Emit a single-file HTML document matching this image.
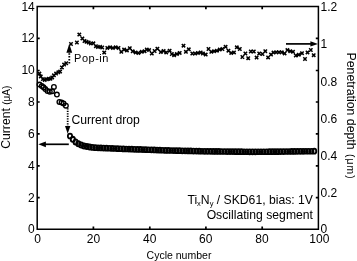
<!DOCTYPE html>
<html><head><meta charset="utf-8">
<style>
html,body{margin:0;padding:0;background:#fff;}
body{width:357px;height:261px;overflow:hidden;}
svg{display:block;will-change:transform;}
text{font-family:"Liberation Sans",sans-serif;fill:#000;}
</style></head>
<body>
<svg width="357" height="261" viewBox="0 0 357 261">
<rect x="0" y="0" width="357" height="261" fill="#fff"/>
<!-- frame -->
<path d="M37.2,6.5 H318.4 V229.3 H37.2 Z" fill="none" stroke="#000" stroke-width="1.5"/>
<!-- left ticks (inside) -->
<g stroke="#000" stroke-width="1.7">
<path d="M37,197.7h2.7M37,165.8h2.7M37,133.8h2.7M37,102h2.7M37,70.5h2.7M37,38.4h2.7"/>
<path d="M318.5,197.7h-2.7M318.5,165.8h-2.7M318.5,133.8h-2.7M318.5,102h-2.7M318.5,70.5h-2.7M318.5,38.4h-2.7"/>
<path d="M93.4,229.3v-2.7M149.8,229.3v-2.7M205.9,229.3v-2.7M262.2,229.3v-2.7"/>
<path d="M93.4,6.5v2.7M149.8,6.5v2.7M205.9,6.5v2.7M262.2,6.5v2.7"/>
</g>
<!-- y left tick labels -->
<g font-size="12" text-anchor="end">
<text x="34.8" y="233.4">0</text>
<text x="34.8" y="201.6">2</text>
<text x="34.8" y="169.8">4</text>
<text x="34.8" y="137.9">6</text>
<text x="34.8" y="105.9">8</text>
<text x="34.8" y="74.2">10</text>
<text x="34.8" y="42.4">12</text>
<text x="34.8" y="10.6">14</text>
</g>
<!-- x tick labels -->
<g font-size="12" text-anchor="middle">
<text x="37.6" y="242.7">0</text>
<text x="93.5" y="242.7">20</text>
<text x="149.8" y="242.7">40</text>
<text x="205.7" y="242.7">60</text>
<text x="262" y="242.7">80</text>
<text x="319.3" y="242.7">100</text>
</g>
<!-- right tick labels -->
<g font-size="12" text-anchor="start">
<text x="320.6" y="233.4">0</text>
<text x="320.6" y="196.8">0.2</text>
<text x="320.6" y="159.8">0.4</text>
<text x="320.6" y="122.9">0.6</text>
<text x="320.6" y="85.8">0.8</text>
<text x="320.6" y="47.8">1</text>
<text x="320.6" y="10.9">1.2</text>
</g>
<text x="179" y="258.6" font-size="10.5" text-anchor="middle">Cycle number</text>
<text transform="translate(10.1,148.8) rotate(-90)" font-size="12.2">Current <tspan font-size="10">(μA)</tspan></text>
<text transform="translate(347.4,52.5) rotate(90)" font-size="12.3">Penetration depth <tspan font-size="10.3" dx="0.9" letter-spacing="1.1">(μm)</tspan></text>
<text x="74.1" y="62.3" font-size="11" textLength="34.3" lengthAdjust="spacing">Pop-in</text>
<text x="71.4" y="123.9" font-size="12.2">Current drop</text>
<text x="313" y="204" font-size="12.2" text-anchor="end">Ti<tspan font-size="7.5" dy="2">x</tspan><tspan dy="-2">N</tspan><tspan font-size="7.5" dy="2">y</tspan><tspan dy="-2"> / SKD61, bias: 1V</tspan></text>
<text x="313" y="219" font-size="12.2" text-anchor="end">Oscillating segment</text>
<g fill="none" stroke="#000" stroke-width="1.5"><ellipse cx="39.50" cy="84.50" rx="2.30" ry="2.30" stroke-width="1.35"/><ellipse cx="41.80" cy="86.00" rx="2.30" ry="2.30" stroke-width="1.35"/><ellipse cx="43.50" cy="87.30" rx="2.30" ry="2.30" stroke-width="1.35"/><ellipse cx="45.30" cy="89.10" rx="2.30" ry="2.30" stroke-width="1.35"/><ellipse cx="47.50" cy="90.90" rx="2.30" ry="2.30" stroke-width="1.35"/><ellipse cx="49.80" cy="91.70" rx="2.30" ry="2.30" stroke-width="1.35"/><ellipse cx="52.10" cy="91.30" rx="2.30" ry="2.30" stroke-width="1.35"/><ellipse cx="53.90" cy="86.90" rx="2.30" ry="2.30" stroke-width="1.35"/><ellipse cx="56.90" cy="94.60" rx="2.30" ry="2.30" stroke-width="1.35"/><ellipse cx="59.40" cy="101.90" rx="2.30" ry="2.30" stroke-width="1.35"/><ellipse cx="61.60" cy="102.60" rx="2.30" ry="2.30" stroke-width="1.35"/><ellipse cx="63.60" cy="103.40" rx="2.30" ry="2.30" stroke-width="1.35"/><ellipse cx="65.90" cy="105.70" rx="2.30" ry="2.30" stroke-width="1.35"/><ellipse cx="70.00" cy="136.00" rx="2.15" ry="2.49" stroke-width="1.76"/><ellipse cx="72.81" cy="139.35" rx="2.10" ry="2.55" stroke-width="1.90"/><ellipse cx="75.62" cy="141.94" rx="2.10" ry="2.55" stroke-width="1.90"/><ellipse cx="78.42" cy="143.79" rx="2.10" ry="2.55" stroke-width="1.90"/><ellipse cx="81.23" cy="145.08" rx="2.10" ry="2.55" stroke-width="1.90"/><ellipse cx="84.04" cy="145.90" rx="2.10" ry="2.55" stroke-width="1.90"/><ellipse cx="86.85" cy="146.49" rx="2.09" ry="2.54" stroke-width="1.90"/><ellipse cx="89.66" cy="146.99" rx="2.07" ry="2.52" stroke-width="1.90"/><ellipse cx="92.46" cy="147.41" rx="2.04" ry="2.49" stroke-width="1.90"/><ellipse cx="95.27" cy="147.63" rx="2.02" ry="2.47" stroke-width="1.90"/><ellipse cx="98.08" cy="147.79" rx="2.00" ry="2.45" stroke-width="1.90"/><ellipse cx="100.89" cy="147.94" rx="1.98" ry="2.43" stroke-width="1.90"/><ellipse cx="103.70" cy="148.05" rx="1.96" ry="2.41" stroke-width="1.90"/><ellipse cx="106.50" cy="148.16" rx="1.95" ry="2.40" stroke-width="1.90"/><ellipse cx="109.31" cy="148.27" rx="1.95" ry="2.40" stroke-width="1.90"/><ellipse cx="112.12" cy="148.39" rx="1.95" ry="2.40" stroke-width="1.90"/><ellipse cx="114.93" cy="148.52" rx="1.95" ry="2.40" stroke-width="1.90"/><ellipse cx="117.74" cy="148.64" rx="1.95" ry="2.40" stroke-width="1.90"/><ellipse cx="120.54" cy="148.76" rx="1.95" ry="2.40" stroke-width="1.90"/><ellipse cx="123.35" cy="148.88" rx="1.95" ry="2.40" stroke-width="1.90"/><ellipse cx="126.16" cy="149.01" rx="1.95" ry="2.40" stroke-width="1.90"/><ellipse cx="128.97" cy="149.10" rx="1.95" ry="2.40" stroke-width="1.90"/><ellipse cx="131.78" cy="149.19" rx="1.95" ry="2.40" stroke-width="1.90"/><ellipse cx="134.59" cy="149.29" rx="1.95" ry="2.40" stroke-width="1.90"/><ellipse cx="137.39" cy="149.38" rx="1.95" ry="2.40" stroke-width="1.90"/><ellipse cx="140.20" cy="149.47" rx="1.95" ry="2.40" stroke-width="1.90"/><ellipse cx="143.01" cy="149.57" rx="1.95" ry="2.40" stroke-width="1.90"/><ellipse cx="145.82" cy="149.66" rx="1.95" ry="2.40" stroke-width="1.90"/><ellipse cx="148.63" cy="149.75" rx="1.95" ry="2.40" stroke-width="1.90"/><ellipse cx="151.43" cy="149.85" rx="1.95" ry="2.40" stroke-width="1.90"/><ellipse cx="154.24" cy="149.96" rx="1.95" ry="2.40" stroke-width="1.90"/><ellipse cx="157.05" cy="150.06" rx="1.95" ry="2.40" stroke-width="1.90"/><ellipse cx="159.86" cy="150.17" rx="1.95" ry="2.40" stroke-width="1.90"/><ellipse cx="162.67" cy="150.27" rx="1.95" ry="2.40" stroke-width="1.90"/><ellipse cx="165.47" cy="150.38" rx="1.95" ry="2.40" stroke-width="1.90"/><ellipse cx="168.28" cy="150.45" rx="1.95" ry="2.40" stroke-width="1.90"/><ellipse cx="171.09" cy="150.52" rx="1.95" ry="2.40" stroke-width="1.90"/><ellipse cx="173.90" cy="150.58" rx="1.95" ry="2.40" stroke-width="1.90"/><ellipse cx="176.71" cy="150.65" rx="1.95" ry="2.40" stroke-width="1.90"/><ellipse cx="179.51" cy="150.71" rx="1.95" ry="2.40" stroke-width="1.90"/><ellipse cx="182.32" cy="150.78" rx="1.95" ry="2.40" stroke-width="1.90"/><ellipse cx="185.13" cy="150.84" rx="1.95" ry="2.40" stroke-width="1.90"/><ellipse cx="187.94" cy="150.91" rx="1.95" ry="2.40" stroke-width="1.90"/><ellipse cx="190.75" cy="150.97" rx="1.95" ry="2.40" stroke-width="1.90"/><ellipse cx="193.55" cy="151.04" rx="1.95" ry="2.40" stroke-width="1.90"/><ellipse cx="196.36" cy="151.10" rx="1.95" ry="2.40" stroke-width="1.90"/><ellipse cx="199.17" cy="151.17" rx="1.95" ry="2.40" stroke-width="1.90"/><ellipse cx="201.98" cy="151.23" rx="1.95" ry="2.40" stroke-width="1.90"/><ellipse cx="204.79" cy="151.30" rx="1.95" ry="2.40" stroke-width="1.90"/><ellipse cx="207.59" cy="151.33" rx="1.95" ry="2.40" stroke-width="1.90"/><ellipse cx="210.40" cy="151.36" rx="1.95" ry="2.40" stroke-width="1.90"/><ellipse cx="213.21" cy="151.39" rx="1.95" ry="2.40" stroke-width="1.90"/><ellipse cx="216.02" cy="151.42" rx="1.95" ry="2.40" stroke-width="1.90"/><ellipse cx="218.83" cy="151.45" rx="1.95" ry="2.40" stroke-width="1.90"/><ellipse cx="221.63" cy="151.48" rx="1.95" ry="2.40" stroke-width="1.90"/><ellipse cx="224.44" cy="151.52" rx="1.95" ry="2.40" stroke-width="1.90"/><ellipse cx="227.25" cy="151.55" rx="1.95" ry="2.40" stroke-width="1.90"/><ellipse cx="230.06" cy="151.58" rx="1.95" ry="2.40" stroke-width="1.90"/><ellipse cx="232.87" cy="151.61" rx="1.95" ry="2.40" stroke-width="1.90"/><ellipse cx="235.67" cy="151.64" rx="1.95" ry="2.40" stroke-width="1.90"/><ellipse cx="238.48" cy="151.67" rx="1.95" ry="2.40" stroke-width="1.90"/><ellipse cx="241.29" cy="151.70" rx="1.95" ry="2.40" stroke-width="1.90"/><ellipse cx="244.10" cy="151.73" rx="1.95" ry="2.40" stroke-width="1.90"/><ellipse cx="246.91" cy="151.77" rx="1.95" ry="2.40" stroke-width="1.90"/><ellipse cx="249.71" cy="151.80" rx="1.95" ry="2.40" stroke-width="1.90"/><ellipse cx="252.52" cy="151.79" rx="1.95" ry="2.40" stroke-width="1.90"/><ellipse cx="255.33" cy="151.78" rx="1.95" ry="2.40" stroke-width="1.90"/><ellipse cx="258.14" cy="151.77" rx="1.95" ry="2.40" stroke-width="1.90"/><ellipse cx="260.95" cy="151.76" rx="1.95" ry="2.40" stroke-width="1.90"/><ellipse cx="263.76" cy="151.74" rx="1.95" ry="2.40" stroke-width="1.90"/><ellipse cx="266.56" cy="151.73" rx="1.95" ry="2.40" stroke-width="1.90"/><ellipse cx="269.37" cy="151.72" rx="1.95" ry="2.40" stroke-width="1.90"/><ellipse cx="272.18" cy="151.71" rx="1.95" ry="2.40" stroke-width="1.90"/><ellipse cx="274.99" cy="151.70" rx="1.95" ry="2.40" stroke-width="1.90"/><ellipse cx="277.80" cy="151.66" rx="1.95" ry="2.40" stroke-width="1.90"/><ellipse cx="280.60" cy="151.61" rx="1.95" ry="2.40" stroke-width="1.90"/><ellipse cx="283.41" cy="151.57" rx="1.95" ry="2.40" stroke-width="1.90"/><ellipse cx="286.22" cy="151.52" rx="1.95" ry="2.40" stroke-width="1.90"/><ellipse cx="289.03" cy="151.48" rx="1.95" ry="2.40" stroke-width="1.90"/><ellipse cx="291.84" cy="151.43" rx="1.95" ry="2.40" stroke-width="1.90"/><ellipse cx="294.64" cy="151.39" rx="1.95" ry="2.40" stroke-width="1.90"/><ellipse cx="297.45" cy="151.34" rx="1.95" ry="2.40" stroke-width="1.90"/><ellipse cx="300.26" cy="151.30" rx="1.95" ry="2.40" stroke-width="1.90"/><ellipse cx="303.07" cy="151.28" rx="1.95" ry="2.40" stroke-width="1.90"/><ellipse cx="305.88" cy="151.26" rx="1.95" ry="2.40" stroke-width="1.90"/><ellipse cx="308.68" cy="151.25" rx="1.95" ry="2.40" stroke-width="1.90"/><ellipse cx="311.49" cy="151.23" rx="1.95" ry="2.40" stroke-width="1.90"/><ellipse cx="314.30" cy="151.21" rx="1.95" ry="2.40" stroke-width="1.90"/></g>
<path d="M37.70,71.90l3.40,3.40M37.70,75.30l3.40,-3.40M39.10,74.70l3.40,3.40M39.10,78.10l3.40,-3.40M41.20,77.40l3.40,3.40M41.20,80.80l3.40,-3.40M43.00,78.20l3.40,3.40M43.00,81.60l3.40,-3.40M45.20,77.60l3.40,3.40M45.20,81.00l3.40,-3.40M47.00,77.10l3.40,3.40M47.00,80.50l3.40,-3.40M48.80,77.00l3.40,3.40M48.80,80.40l3.40,-3.40M50.50,75.70l3.40,3.40M50.50,79.10l3.40,-3.40M52.20,73.60l3.40,3.40M52.20,77.00l3.40,-3.40M54.40,71.90l3.40,3.40M54.40,75.30l3.40,-3.40M56.60,70.60l3.40,3.40M56.60,74.00l3.40,-3.40M58.40,69.90l3.40,3.40M58.40,73.30l3.40,-3.40M60.20,65.70l3.40,3.40M60.20,69.10l3.40,-3.40M62.40,62.90l3.40,3.40M62.40,66.30l3.40,-3.40M64.50,61.50l3.40,3.40M64.50,64.90l3.40,-3.40M69.30,42.30l3.40,3.40M69.30,45.70l3.40,-3.40M75.20,40.80l3.40,3.40M75.20,44.20l3.40,-3.40M77.60,32.90l3.40,3.40M77.60,36.30l3.40,-3.40M80.70,36.70l3.40,3.40M80.70,40.10l3.40,-3.40M82.80,39.30l3.40,3.40M82.80,42.70l3.40,-3.40M84.90,40.10l3.40,3.40M84.90,43.50l3.40,-3.40M87.00,40.90l3.40,3.40M87.00,44.30l3.40,-3.40M89.10,41.80l3.40,3.40M89.10,45.20l3.40,-3.40M91.70,41.60l3.40,3.40M91.70,45.00l3.40,-3.40M94.20,44.50l3.40,3.40M94.20,47.90l3.40,-3.40M96.30,45.30l3.40,3.40M96.30,48.70l3.40,-3.40M98.40,45.10l3.40,3.40M98.40,48.50l3.40,-3.40M100.50,45.80l3.40,3.40M100.50,49.20l3.40,-3.40M102.50,50.90l3.40,3.40M102.50,54.30l3.40,-3.40M105.60,46.20l3.40,3.40M105.60,49.60l3.40,-3.40M108.40,45.60l3.40,3.40M108.40,49.00l3.40,-3.40M111.20,46.20l3.40,3.40M111.20,49.60l3.40,-3.40M114.00,45.60l3.40,3.40M114.00,49.00l3.40,-3.40M116.80,46.20l3.40,3.40M116.80,49.60l3.40,-3.40M119.60,50.10l3.40,3.40M119.60,53.50l3.40,-3.40M122.40,47.90l3.40,3.40M122.40,51.30l3.40,-3.40M125.20,48.70l3.40,3.40M125.20,52.10l3.40,-3.40M128.10,46.50l3.40,3.40M128.10,49.90l3.40,-3.40M131.00,49.60l3.40,3.40M131.00,53.00l3.40,-3.40M133.90,50.70l3.40,3.40M133.90,54.10l3.40,-3.40M136.70,51.20l3.40,3.40M136.70,54.60l3.40,-3.40M140.10,50.10l3.40,3.40M140.10,53.50l3.40,-3.40M142.90,49.50l3.40,3.40M142.90,52.90l3.40,-3.40M145.10,47.90l3.40,3.40M145.10,51.30l3.40,-3.40M147.40,48.40l3.40,3.40M147.40,51.80l3.40,-3.40M150.10,51.80l3.40,3.40M150.10,55.20l3.40,-3.40M152.90,49.30l3.40,3.40M152.90,52.70l3.40,-3.40M155.70,47.00l3.40,3.40M155.70,50.40l3.40,-3.40M159.10,50.40l3.40,3.40M159.10,53.80l3.40,-3.40M161.90,49.30l3.40,3.40M161.90,52.70l3.40,-3.40M164.50,50.70l3.40,3.40M164.50,54.10l3.40,-3.40M167.90,49.00l3.40,3.40M167.90,52.40l3.40,-3.40M170.10,52.30l3.40,3.40M170.10,55.70l3.40,-3.40M172.40,53.50l3.40,3.40M172.40,56.90l3.40,-3.40M175.20,52.30l3.40,3.40M175.20,55.70l3.40,-3.40M178.00,51.20l3.40,3.40M178.00,54.60l3.40,-3.40M181.80,44.00l3.40,3.40M181.80,47.40l3.40,-3.40M184.20,50.10l3.40,3.40M184.20,53.50l3.40,-3.40M187.10,47.60l3.40,3.40M187.10,51.00l3.40,-3.40M190.60,51.80l3.40,3.40M190.60,55.20l3.40,-3.40M193.40,51.80l3.40,3.40M193.40,55.20l3.40,-3.40M196.20,51.20l3.40,3.40M196.20,54.60l3.40,-3.40M199.00,50.70l3.40,3.40M199.00,54.10l3.40,-3.40M201.20,51.80l3.40,3.40M201.20,55.20l3.40,-3.40M204.00,52.90l3.40,3.40M204.00,56.30l3.40,-3.40M206.80,47.30l3.40,3.40M206.80,50.70l3.40,-3.40M209.60,50.10l3.40,3.40M209.60,53.50l3.40,-3.40M212.40,49.50l3.40,3.40M212.40,52.90l3.40,-3.40M215.20,49.00l3.40,3.40M215.20,52.40l3.40,-3.40M218.00,47.90l3.40,3.40M218.00,51.30l3.40,-3.40M220.70,47.30l3.40,3.40M220.70,50.70l3.40,-3.40M223.90,45.10l3.40,3.40M223.90,48.50l3.40,-3.40M226.70,49.00l3.40,3.40M226.70,52.40l3.40,-3.40M229.50,51.20l3.40,3.40M229.50,54.60l3.40,-3.40M232.30,50.70l3.40,3.40M232.30,54.10l3.40,-3.40M235.10,45.60l3.40,3.40M235.10,49.00l3.40,-3.40M238.10,47.30l3.40,3.40M238.10,50.70l3.40,-3.40M240.70,55.30l3.40,3.40M240.70,58.70l3.40,-3.40M243.70,51.80l3.40,3.40M243.70,55.20l3.40,-3.40M246.50,56.50l3.40,3.40M246.50,59.90l3.40,-3.40M249.10,49.80l3.40,3.40M249.10,53.20l3.40,-3.40M252.10,49.80l3.40,3.40M252.10,53.20l3.40,-3.40M254.90,55.90l3.40,3.40M254.90,59.30l3.40,-3.40M257.50,51.80l3.40,3.40M257.50,55.20l3.40,-3.40M260.80,52.30l3.40,3.40M260.80,55.70l3.40,-3.40M263.60,49.50l3.40,3.40M263.60,52.90l3.40,-3.40M266.40,55.70l3.40,3.40M266.40,59.10l3.40,-3.40M269.30,52.90l3.40,3.40M269.30,56.30l3.40,-3.40M271.80,50.90l3.40,3.40M271.80,54.30l3.40,-3.40M274.50,50.60l3.40,3.40M274.50,54.00l3.40,-3.40M277.30,50.60l3.40,3.40M277.30,54.00l3.40,-3.40M280.10,50.60l3.40,3.40M280.10,54.00l3.40,-3.40M282.90,51.70l3.40,3.40M282.90,55.10l3.40,-3.40M285.70,48.40l3.40,3.40M285.70,51.80l3.40,-3.40M288.50,49.50l3.40,3.40M288.50,52.90l3.40,-3.40M291.30,50.10l3.40,3.40M291.30,53.50l3.40,-3.40M294.10,53.80l3.40,3.40M294.10,57.20l3.40,-3.40M297.10,53.00l3.40,3.40M297.10,56.40l3.40,-3.40M300.30,51.50l3.40,3.40M300.30,54.90l3.40,-3.40M303.30,57.30l3.40,3.40M303.30,60.70l3.40,-3.40M305.80,50.70l3.40,3.40M305.80,54.10l3.40,-3.40M309.10,48.30l3.40,3.40M309.10,51.70l3.40,-3.40M312.00,53.50l3.40,3.40M312.00,56.90l3.40,-3.40" fill="none" stroke="#000" stroke-width="1.5"/>
<!-- arrows -->
<path d="M286,43.9H312" stroke="#000" stroke-width="1.7"/>
<path d="M318,43.9l-7.6,-2.7v5.4z" fill="#000"/>
<path d="M45,144.3H68.8" stroke="#000" stroke-width="1.7"/>
<path d="M38.3,144.3l7.6,-2.9v5.8z" fill="#000"/>
<path d="M69.3,63.4V53" stroke="#000" stroke-width="1.8" stroke-dasharray="1.5 1.4"/>
<path d="M69.3,43.8l-2.9,8.9h5.8z" fill="#000"/>
<path d="M67.7,108.2V126.4" stroke="#000" stroke-width="1.8" stroke-dasharray="1.3 1.2"/>
<path d="M67.7,133.8l-2.7,-7.8h5.4z" fill="#000"/>
</svg>
</body></html>
